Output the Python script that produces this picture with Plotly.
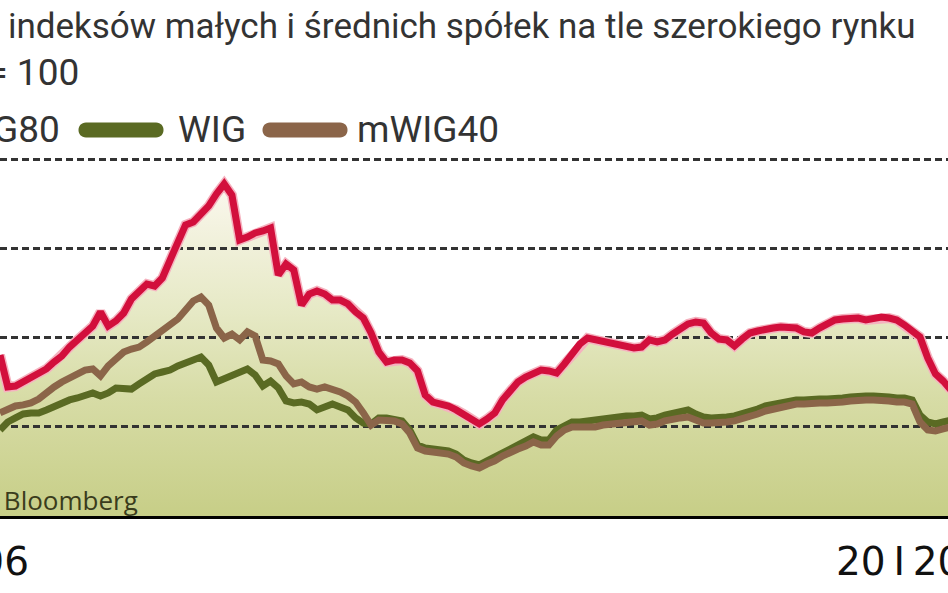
import pandas as pd
import plotly.graph_objects as go

# ---- data (index, 20 I 2006 = 100), 16-day steps ----
dates = pd.date_range("2006-05-28", periods=124, freq="16D")

swig80 = [140.4, 122.5, 123.0, 125.3, 127.5, 129.8, 132.6, 136.5, 139.9, 144.9,
          148.9, 152.2, 156.7, 164.6, 156.7, 159.6, 164.0, 171.9, 175.8, 180.3,
          179.2, 183.7, 193.8, 203.9, 213.5, 215.2, 219.7, 224.2, 230.9, 236.5,
          230.3, 205.1, 206.7, 209.0, 210.1, 211.8, 185.4, 191.6, 188.2, 168.5,
          174.7, 176.4, 174.7, 171.3, 171.3, 169.1, 164.6, 161.2, 152.8, 142.1,
          136.5, 137.6, 137.6, 136.0, 131.5, 118.0, 114.0, 112.9, 111.8, 109.6,
          107.3, 104.5, 101.7, 104.5, 107.9, 115.2, 120.8, 125.3, 128.1, 130.3,
          132.0, 131.5, 130.3, 135.4, 141.0, 146.6, 150.0, 148.9, 147.8, 147.2,
          146.1, 144.9, 144.4, 144.9, 148.9, 147.8, 148.9, 152.2, 155.6, 157.9,
          159.0, 158.4, 152.8, 149.4, 148.9, 145.5, 149.4, 152.8, 153.9, 155.1,
          155.6, 156.2, 155.6, 155.6, 153.4, 152.8, 155.6, 157.9, 160.1, 160.7,
          161.2, 161.2, 160.1, 160.7, 161.8, 161.2, 160.1, 157.3, 154.5, 150.6,
          138.8, 129.8, 125.8, 120.8]

wig = [98.3, 102.8, 105.1, 107.3, 107.9, 107.9, 109.6, 111.8, 114.0, 115.2,
       116.3, 118.0, 119.1, 117.4, 119.1, 121.9, 121.9, 121.3, 124.2, 127.0,
       129.8, 130.9, 132.0, 134.3, 136.5, 137.6, 139.3, 134.8, 125.3, 127.0,
       128.7, 130.3, 132.6, 129.2, 123.0, 125.8, 121.9, 114.6, 113.5, 114.0,
       112.9, 109.6, 111.8, 112.9, 111.2, 109.6, 105.1, 102.2, 101.7, 105.1,
       105.1, 104.5, 103.4, 98.3, 89.9, 88.2, 87.6, 87.1, 86.5, 84.8,
       81.5, 79.8, 78.7, 80.9, 83.1, 86.0, 88.2, 90.4, 92.7, 94.4,
       92.7, 92.7, 98.3, 101.1, 102.8, 102.8, 103.4, 103.9, 105.1, 105.1,
       105.6, 106.2, 106.2, 106.7, 104.5, 105.1, 106.7, 107.9, 109.0, 109.6,
       107.3, 105.6, 105.1, 105.1, 105.6, 106.2, 107.3, 109.0, 110.1, 111.8,
       112.9, 114.0, 114.6, 115.2, 115.2, 115.7, 115.7, 115.7, 115.7, 116.3,
       116.9, 117.4, 117.4, 117.4, 117.4, 116.9, 116.3, 116.3, 115.2, 106.7,
       102.8, 101.7, 102.8, 103.9]

mwig40 = [107.9, 109.6, 111.8, 112.4, 113.5, 115.7, 119.7, 122.5, 125.3, 127.5,
          129.2, 132.0, 132.6, 128.7, 134.3, 138.8, 142.1, 143.8, 144.9, 147.8,
          151.1, 153.9, 157.3, 160.7, 165.7, 170.8, 173.0, 168.5, 155.6, 150.0,
          152.2, 148.9, 153.4, 151.1, 137.6, 137.1, 135.4, 128.7, 124.2, 125.3,
          122.5, 121.3, 122.5, 121.3, 119.7, 117.4, 114.0, 107.9, 101.1, 103.9,
          103.9, 103.4, 101.7, 96.6, 88.2, 86.5, 86.0, 85.4, 84.8, 83.1,
          79.8, 78.1, 77.0, 79.2, 80.9, 83.7, 86.0, 87.6, 89.3, 91.6,
          89.9, 89.9, 94.9, 98.3, 100.0, 100.0, 100.0, 100.0, 101.1, 101.7,
          102.2, 102.8, 102.8, 103.4, 101.1, 101.7, 103.4, 104.5, 105.1, 105.6,
          103.4, 102.2, 102.2, 102.2, 102.8, 103.4, 104.5, 106.2, 107.3, 109.0,
          110.1, 111.2, 112.4, 112.9, 112.9, 113.5, 113.5, 113.5, 113.5, 114.0,
          114.6, 115.2, 115.2, 115.2, 115.2, 114.6, 114.0, 114.0, 112.9, 102.8,
          98.3, 97.8, 98.9, 100.0]

series_names = ["sWIG80", "WIG", "mWIG40"]
grid_values = [100, 150, 200, 250]
x_labels = ["20\u2009I\u20092006", "20\u2009I\u20092012"]

title_text = "Notowania indeksów małych i średnich spółek na tle szerokiego rynku"
base_text = "20 I 2006 = 100"
source_text = "Źródło: Bloomberg"

# ---- styling ----
W, H = 948, 593
ML, MR, MT, MB = 0, 0, 150, 77
PW, PH = W - ML - MR, H - MT - MB

RED, GREEN, BROWN = "#d20f3c", "#5a6a23", "#8b6549"
XRANGE = ["2006-05-28", "2011-10-11"]
YRANGE = [50, 255.6]

HEAD = "Roboto, DejaVu Sans, sans-serif"
TXT = "#333333"


def px(x):
    return (x - ML) / PW


def py(y):
    return (H - MB - y) / PH


fig = go.Figure()

# gradient fill under sWIG80 (bottom subplot, below the gridlines)
fig.add_trace(go.Scatter(
    x=dates, y=swig80, mode="lines", line=dict(width=0), fill="tozeroy",
    fillgradient=dict(type="vertical", start=50, stop=240,
                      colorscale=[[0, "#c7ce87"], [0.35, "#d7dca6"],
                                  [0.6, "#e6e9c5"], [0.85, "#f3f2df"],
                                  [1, "#fbf9f0"]]),
    hoverinfo="skip", showlegend=False, xaxis="x", yaxis="y"))

# lines (top subplot, above the gridlines)
fig.add_trace(go.Scatter(x=dates, y=wig, mode="lines", name=series_names[1],
                         line=dict(color=GREEN, width=7), showlegend=False,
                         xaxis="x2", yaxis="y2"))
fig.add_trace(go.Scatter(x=dates, y=mwig40, mode="lines", name=series_names[2],
                         line=dict(color=BROWN, width=7), showlegend=False,
                         xaxis="x2", yaxis="y2"))
fig.add_trace(go.Scatter(x=dates, y=swig80, mode="lines", hoverinfo="skip",
                         line=dict(color="#f5b2bf", width=10), showlegend=False,
                         xaxis="x2", yaxis="y2"))
fig.add_trace(go.Scatter(x=dates, y=swig80, mode="lines", name=series_names[0],
                         line=dict(color=RED, width=7), showlegend=False,
                         xaxis="x2", yaxis="y2"))

ax_common = dict(range=XRANGE, domain=[0, 1], showgrid=False, zeroline=False,
                 showticklabels=False, ticks="", fixedrange=True)
ay_common = dict(range=YRANGE, domain=[0, 1], zeroline=False,
                 showticklabels=False, ticks="", fixedrange=True)

annotations = [
    dict(text=title_text, x=px(918), y=py(26), xanchor="right", yanchor="middle",
         font=dict(family=HEAD, size=35, color=TXT)),
    dict(text=base_text, x=px(81), y=py(72), xanchor="right", yanchor="middle",
         font=dict(family=HEAD, size=37, color=TXT)),
    dict(text=series_names[0], x=px(62), y=py(130), xanchor="right", yanchor="middle",
         font=dict(family=HEAD, size=37, color=TXT)),
    dict(text=series_names[1], x=px(176), y=py(130), xanchor="left", yanchor="middle",
         font=dict(family=HEAD, size=37, color=TXT)),
    dict(text=series_names[2], x=px(355), y=py(130), xanchor="left", yanchor="middle",
         font=dict(family=HEAD, size=37, color=TXT)),
    dict(text=source_text, x=px(140), y=py(500), xanchor="right", yanchor="middle",
         font=dict(family="Open Sans, sans-serif", size=26, color="#3a3c1c")),
    dict(text=x_labels[0], x=px(31), y=py(561), xanchor="right", yanchor="middle",
         font=dict(family="DejaVu Sans, sans-serif", size=39, color="#111111")),
    dict(text=x_labels[1], x=px(834), y=py(561), xanchor="left", yanchor="middle",
         font=dict(family="DejaVu Sans, sans-serif", size=39, color="#111111")),
]
for a in annotations:
    a.update(xref="paper", yref="paper", showarrow=False)


def pill(cx, cy, color, w=85, h=15):
    r = h / 2
    a = w / 2 - r
    k = r * 4 / 3
    path = (f"M {-a},{-r} L {a},{-r} C {a + k},{-r} {a + k},{r} {a},{r} "
            f"L {-a},{r} C {-a - k},{r} {-a - k},{-r} {-a},{-r} Z")
    return dict(type="path", xref="paper", yref="paper", xsizemode="pixel",
                ysizemode="pixel", xanchor=px(cx), yanchor=py(cy), path=path,
                fillcolor=color, line=dict(width=0), layer="above")


shapes = [pill(-80, 130, RED), pill(121, 130, GREEN), pill(305, 130, BROWN)]

fig.update_layout(
    width=W, height=H, margin=dict(l=ML, r=MR, t=MT, b=MB, pad=0),
    paper_bgcolor="white", plot_bgcolor="rgba(0,0,0,0)",
    xaxis=dict(**ax_common, anchor="y", showline=True, linecolor="#000000",
               linewidth=3),
    yaxis=dict(**ay_common, anchor="x", showgrid=False),
    xaxis2=dict(**ax_common, anchor="y2", showline=False),
    yaxis2=dict(**ay_common, anchor="x2", showgrid=True, tickvals=grid_values,
                gridcolor="#333333", gridwidth=2.5, griddash="7px,4px"),
    annotations=annotations, shapes=shapes, showlegend=False,
)

fig.write_html("out.html",
               config={"displayModeBar": False},
               post_script="document.body.style.margin='0';"
                           "document.body.style.overflow='hidden';")
